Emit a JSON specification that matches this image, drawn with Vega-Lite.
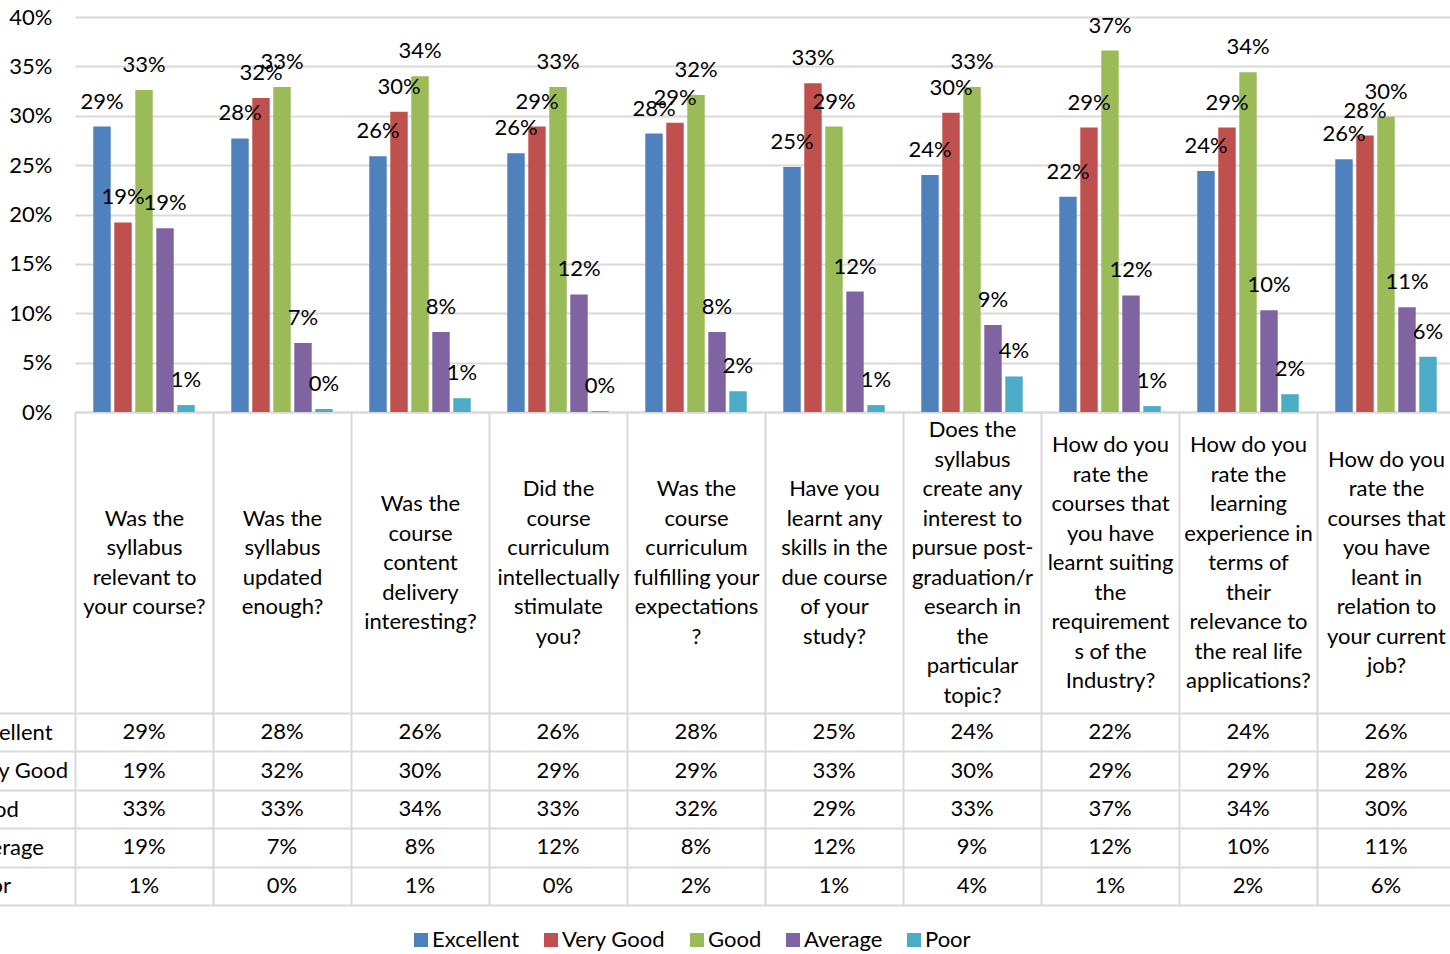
{
  "$schema": "https://vega.github.io/schema/vega-lite/v6.json",
  "width": 1375,
  "height": 395,
  "autosize": {"type": "none"},
  "padding": {"left": 75, "top": 17, "right": 0, "bottom": 542},
  "background": "white",
  "config": {"font": "Lato", "view": {"stroke": null}},
  "data": {
    "values": [
      {"question": "Was the\nsyllabus\nrelevant to\nyour course?", "rating": "Excellent", "share": 0.289},
      {"question": "Was the\nsyllabus\nrelevant to\nyour course?", "rating": "Very Good", "share": 0.192},
      {"question": "Was the\nsyllabus\nrelevant to\nyour course?", "rating": "Good", "share": 0.326},
      {"question": "Was the\nsyllabus\nrelevant to\nyour course?", "rating": "Average", "share": 0.186},
      {"question": "Was the\nsyllabus\nrelevant to\nyour course?", "rating": "Poor", "share": 0.007},
      {"question": "Was the\nsyllabus\nupdated\nenough?", "rating": "Excellent", "share": 0.277},
      {"question": "Was the\nsyllabus\nupdated\nenough?", "rating": "Very Good", "share": 0.318},
      {"question": "Was the\nsyllabus\nupdated\nenough?", "rating": "Good", "share": 0.329},
      {"question": "Was the\nsyllabus\nupdated\nenough?", "rating": "Average", "share": 0.070},
      {"question": "Was the\nsyllabus\nupdated\nenough?", "rating": "Poor", "share": 0.003},
      {"question": "Was the\ncourse\ncontent\ndelivery\ninteresting?", "rating": "Excellent", "share": 0.259},
      {"question": "Was the\ncourse\ncontent\ndelivery\ninteresting?", "rating": "Very Good", "share": 0.304},
      {"question": "Was the\ncourse\ncontent\ndelivery\ninteresting?", "rating": "Good", "share": 0.340},
      {"question": "Was the\ncourse\ncontent\ndelivery\ninteresting?", "rating": "Average", "share": 0.081},
      {"question": "Was the\ncourse\ncontent\ndelivery\ninteresting?", "rating": "Poor", "share": 0.014},
      {"question": "Did the\ncourse\ncurriculum\nintellectually\nstimulate\nyou?", "rating": "Excellent", "share": 0.262},
      {"question": "Did the\ncourse\ncurriculum\nintellectually\nstimulate\nyou?", "rating": "Very Good", "share": 0.289},
      {"question": "Did the\ncourse\ncurriculum\nintellectually\nstimulate\nyou?", "rating": "Good", "share": 0.329},
      {"question": "Did the\ncourse\ncurriculum\nintellectually\nstimulate\nyou?", "rating": "Average", "share": 0.119},
      {"question": "Did the\ncourse\ncurriculum\nintellectually\nstimulate\nyou?", "rating": "Poor", "share": 0.001},
      {"question": "Was the\ncourse\ncurriculum\nfulfilling your\nexpectations\n?", "rating": "Excellent", "share": 0.282},
      {"question": "Was the\ncourse\ncurriculum\nfulfilling your\nexpectations\n?", "rating": "Very Good", "share": 0.293},
      {"question": "Was the\ncourse\ncurriculum\nfulfilling your\nexpectations\n?", "rating": "Good", "share": 0.321},
      {"question": "Was the\ncourse\ncurriculum\nfulfilling your\nexpectations\n?", "rating": "Average", "share": 0.081},
      {"question": "Was the\ncourse\ncurriculum\nfulfilling your\nexpectations\n?", "rating": "Poor", "share": 0.021},
      {"question": "Have you\nlearnt any\nskills in the\ndue course\nof your\nstudy?", "rating": "Excellent", "share": 0.248},
      {"question": "Have you\nlearnt any\nskills in the\ndue course\nof your\nstudy?", "rating": "Very Good", "share": 0.333},
      {"question": "Have you\nlearnt any\nskills in the\ndue course\nof your\nstudy?", "rating": "Good", "share": 0.289},
      {"question": "Have you\nlearnt any\nskills in the\ndue course\nof your\nstudy?", "rating": "Average", "share": 0.122},
      {"question": "Have you\nlearnt any\nskills in the\ndue course\nof your\nstudy?", "rating": "Poor", "share": 0.007},
      {"question": "Does the\nsyllabus\ncreate any\ninterest to\npursue post-\ngraduation/r\nesearch in\nthe\nparticular\ntopic?", "rating": "Excellent", "share": 0.240},
      {"question": "Does the\nsyllabus\ncreate any\ninterest to\npursue post-\ngraduation/r\nesearch in\nthe\nparticular\ntopic?", "rating": "Very Good", "share": 0.303},
      {"question": "Does the\nsyllabus\ncreate any\ninterest to\npursue post-\ngraduation/r\nesearch in\nthe\nparticular\ntopic?", "rating": "Good", "share": 0.329},
      {"question": "Does the\nsyllabus\ncreate any\ninterest to\npursue post-\ngraduation/r\nesearch in\nthe\nparticular\ntopic?", "rating": "Average", "share": 0.088},
      {"question": "Does the\nsyllabus\ncreate any\ninterest to\npursue post-\ngraduation/r\nesearch in\nthe\nparticular\ntopic?", "rating": "Poor", "share": 0.036},
      {"question": "How do you\nrate the\ncourses that\nyou have\nlearnt suiting\nthe\nrequirement\ns of the\nIndustry?", "rating": "Excellent", "share": 0.218},
      {"question": "How do you\nrate the\ncourses that\nyou have\nlearnt suiting\nthe\nrequirement\ns of the\nIndustry?", "rating": "Very Good", "share": 0.288},
      {"question": "How do you\nrate the\ncourses that\nyou have\nlearnt suiting\nthe\nrequirement\ns of the\nIndustry?", "rating": "Good", "share": 0.366},
      {"question": "How do you\nrate the\ncourses that\nyou have\nlearnt suiting\nthe\nrequirement\ns of the\nIndustry?", "rating": "Average", "share": 0.118},
      {"question": "How do you\nrate the\ncourses that\nyou have\nlearnt suiting\nthe\nrequirement\ns of the\nIndustry?", "rating": "Poor", "share": 0.006},
      {"question": "How do you\nrate the\nlearning\nexperience in\nterms of\ntheir\nrelevance to\nthe real life\napplications?", "rating": "Excellent", "share": 0.244},
      {"question": "How do you\nrate the\nlearning\nexperience in\nterms of\ntheir\nrelevance to\nthe real life\napplications?", "rating": "Very Good", "share": 0.288},
      {"question": "How do you\nrate the\nlearning\nexperience in\nterms of\ntheir\nrelevance to\nthe real life\napplications?", "rating": "Good", "share": 0.344},
      {"question": "How do you\nrate the\nlearning\nexperience in\nterms of\ntheir\nrelevance to\nthe real life\napplications?", "rating": "Average", "share": 0.103},
      {"question": "How do you\nrate the\nlearning\nexperience in\nterms of\ntheir\nrelevance to\nthe real life\napplications?", "rating": "Poor", "share": 0.018},
      {"question": "How do you\nrate the\ncourses that\nyou have\nleant in\nrelation to\nyour current\njob?", "rating": "Excellent", "share": 0.256},
      {"question": "How do you\nrate the\ncourses that\nyou have\nleant in\nrelation to\nyour current\njob?", "rating": "Very Good", "share": 0.280},
      {"question": "How do you\nrate the\ncourses that\nyou have\nleant in\nrelation to\nyour current\njob?", "rating": "Good", "share": 0.299},
      {"question": "How do you\nrate the\ncourses that\nyou have\nleant in\nrelation to\nyour current\njob?", "rating": "Average", "share": 0.106},
      {"question": "How do you\nrate the\ncourses that\nyou have\nleant in\nrelation to\nyour current\njob?", "rating": "Poor", "share": 0.056}
    ]
  },
  "layer": [
    {
      "layer": [
        {
          "mark": {"type": "bar"},
          "encoding": {
            "x": {
              "field": "question", "type": "nominal", "sort": null,
              "scale": {"range": [0, 1380], "paddingInner": 0, "paddingOuter": 0},
              "axis": {
                "title": null, "orient": "bottom", "tickBand": "extent", "grid": false,
                "ticks": true, "tickSize": 493, "tickColor": "#D9D9D9", "tickWidth": 2,
                "domain": true, "domainColor": "#D9D9D9", "domainWidth": 2,
                "labelExpr": "split(datum.label, '\\n')",
                "labelAngle": 0, "labelBaseline": "middle",
                "labelPadding": {"expr": "-342.5 - (length(split(datum.label, '\\n')) - 1) * 14.75"},
                "labelFontSize": 22, "labelLineHeight": 29.5, "labelColor": "black",
                "labelOverlap": false, "labelLimit": 0
              }
            },
            "xOffset": {
              "field": "rating", "type": "nominal",
              "scale": {"domain": ["Excellent", "Very Good", "Good", "Average", "Poor"], "paddingInner": 0.17, "paddingOuter": 0.87}
            },
            "y": {
              "field": "share", "type": "quantitative",
              "scale": {"domain": [0, 0.4], "nice": false},
              "axis": {
                "title": null, "orient": "left", "values": [0, 0.05, 0.1, 0.15, 0.2, 0.25, 0.3, 0.35, 0.4],
                "format": ".0%", "grid": true, "gridColor": "#D9D9D9", "gridWidth": 2,
                "ticks": false, "domain": false, "labelPadding": 23,
                "labelFontSize": 22, "labelColor": "black"
              }
            },
            "color": {
              "field": "rating", "type": "nominal",
              "scale": {"domain": ["Excellent", "Very Good", "Good", "Average", "Poor"], "range": ["#4F81BD", "#C0504D", "#9BBB59", "#8064A2", "#4BACC6"]},
              "legend": {
                "title": null, "orient": "none", "legendX": 335, "legendY": 912,
                "direction": "horizontal", "symbolType": "square", "symbolSize": 196,
                "symbolStrokeWidth": 0, "labelFontSize": 22, "labelColor": "black",
                "columnPadding": 20, "labelOffset": 0, "padding": 0
              }
            }
          }
        },
        {
          "mark": {"type": "text", "dy": -18, "baseline": "alphabetic", "align": "center", "fontSize": 22, "color": "black"},
          "encoding": {
            "x": {"field": "question", "type": "nominal", "sort": null, "scale": {"range": [0, 1380], "paddingInner": 0, "paddingOuter": 0}},
            "xOffset": {
              "field": "rating", "type": "nominal",
              "scale": {"domain": ["Excellent", "Very Good", "Good", "Average", "Poor"], "paddingInner": 0.17, "paddingOuter": 0.87}
            },
            "y": {"field": "share", "type": "quantitative"},
            "text": {"field": "share", "type": "quantitative", "format": ".0%"}
          }
        }
      ]
    },
    {
      "mark": {"type": "text", "baseline": "middle", "align": "center", "fontSize": 22, "color": "black"},
      "encoding": {
        "x": {"field": "question", "type": "nominal", "sort": null, "scale": {"range": [0, 1380], "paddingInner": 0, "paddingOuter": 0}},
        "y": {
          "field": "rating", "type": "nominal",
          "scale": {"domain": ["Excellent", "Very Good", "Good", "Average", "Poor"], "range": [696, 888], "paddingInner": 0, "paddingOuter": 0},
          "axis": {
            "title": null, "orient": "left", "tickBand": "extent",
            "grid": true, "gridColor": "#D9D9D9", "gridWidth": 2,
            "ticks": true, "tickSize": 140, "tickColor": "#D9D9D9", "tickWidth": 2,
            "domain": false, "labelAlign": "left", "labelBaseline": "middle",
            "labelPadding": -30, "labelFontSize": 22, "labelColor": "black"
          }
        },
        "text": {"field": "share", "type": "quantitative", "format": ".0%"}
      }
    }
  ],
  "resolve": {"scale": {"y": "independent"}, "axis": {"y": "independent"}}
}
